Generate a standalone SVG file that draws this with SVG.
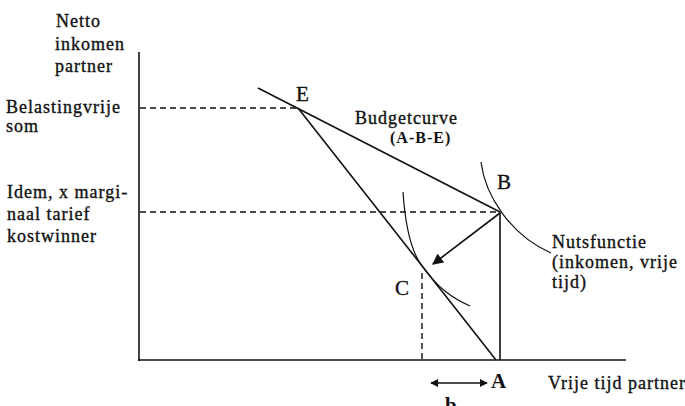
<svg xmlns="http://www.w3.org/2000/svg" width="685" height="406" viewBox="0 0 685 406">
<style>
  text { font-family: "Liberation Serif", "Times New Roman", serif; font-size: 18px; fill: #111; letter-spacing: 1px; stroke: #111; stroke-width: 0.35; }
  .lbl { font-size: 21px; letter-spacing: 0; }
  .b { font-weight: bold; stroke-width: 0; }
  .ln { stroke: #111; stroke-width: 1.6; fill: none; }
  .thin { stroke: #111; stroke-width: 1.2; fill: none; }
  .dash { stroke: #111; stroke-width: 1.4; fill: none; stroke-dasharray: 6 4; }
</style>
<defs>
  <marker id="ah" viewBox="0 0 10 10" refX="9" refY="5" markerWidth="8" markerHeight="8" markerUnits="userSpaceOnUse" orient="auto-start-reverse">
    <path d="M0,0 L10,5 L0,10 Z" fill="#111"/>
  </marker>
  <marker id="ah2" viewBox="0 0 10 10" refX="9" refY="5" markerWidth="13" markerHeight="11" markerUnits="userSpaceOnUse" orient="auto">
    <path d="M0,0 L10,5 L0,10 Z" fill="#111"/>
  </marker>
</defs>

<g id="axes">
  <line class="ln" x1="139" y1="52" x2="139" y2="361"/>
  <line class="ln" x1="138" y1="360" x2="626" y2="360"/>
</g>

<g id="connectors">
  <line class="dash" x1="140" y1="108" x2="298" y2="108"/>
  <line class="dash" x1="140" y1="212" x2="500" y2="212"/>
  <line class="dash" x1="422" y1="273" x2="422" y2="360"/>
  <line class="ln" x1="258" y1="88" x2="500" y2="212"/>
  <line class="ln" x1="298" y1="108" x2="496" y2="360"/>
  <line class="ln" x1="500" y1="212" x2="500" y2="360"/>
  <line class="ln" x1="500" y1="213" x2="433" y2="264" marker-end="url(#ah2)"/>
  <line class="ln" x1="431" y1="383" x2="487" y2="383" marker-start="url(#ah)" marker-end="url(#ah)"/>
  <path class="thin" d="M481,162 C485,195 510,235 551,253"/>
  <path class="thin" d="M403,192 C405,222 410,250 422,266 C438,288 452,298 470,306"/>
</g>

<g id="ylabel">
  <text x="56" y="27">Netto</text>
  <text x="55" y="50">inkomen</text>
  <text x="55" y="72">partner</text>
</g>
<g id="belastingvrije">
  <text x="6" y="113">Belastingvrije</text>
  <text x="6" y="132">som</text>
</g>
<g id="idem">
  <text x="7" y="198">Idem, x margi-</text>
  <text x="7" y="220">naal tarief</text>
  <text x="7" y="242">kostwinner</text>
</g>
<g id="budget">
  <text x="355" y="124">Budgetcurve</text>
  <text x="390" y="143" class="b" style="font-size:16px">(A-B-E)</text>
</g>
<g id="nuts">
  <text x="552" y="248">Nutsfunctie</text>
  <text x="552" y="268">(inkomen, vrije</text>
  <text x="552" y="288">tijd)</text>
</g>
<g id="xlabel">
  <text x="548" y="389">Vrije tijd partner</text>
</g>
<g id="pE"><text class="lbl" x="296" y="101">E</text></g>
<g id="pB"><text class="lbl" x="497" y="189">B</text></g>
<g id="pC"><text class="lbl" x="395" y="295">C</text></g>
<g id="pA"><text class="lbl b" x="491" y="388">A</text></g>
<g id="pb"><text class="lbl b" x="445" y="412">b</text></g>
</svg>
